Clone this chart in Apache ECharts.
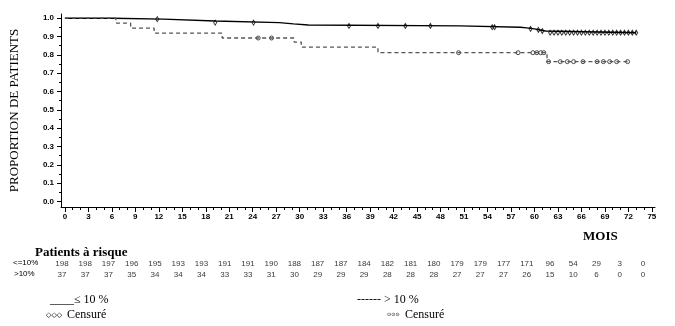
<!DOCTYPE html>
<html><head><meta charset="utf-8">
<script src="https://cdn.jsdelivr.net/npm/echarts@6/dist/echarts.min.js"></script>
<style>html,body{margin:0;padding:0;background:#fff}#c{width:675px;height:326px}</style>
</head><body><div id="c"></div>
<script>
// Kaplan-Meier curves: [month, proportion]
const curveLow = [[0,1.0],[6.1,0.995],[12.6,0.985],[19.2,0.976],[27.4,0.969],[29.2,0.963],[31.1,0.958],[50.5,0.951],[58.2,0.947],[59.0,0.942],[60.0,0.936],[60.7,0.930],[61.4,0.921],[73.0,0.921]];
const curveHigh = [[0,1.0],[6.5,0.973],[8.4,0.946],[11.4,0.919],[20.1,0.892],[29.3,0.870],[30.2,0.842],[40.0,0.812],[61.6,0.763],[72.2,0.763]];
// censored times
const censLow = [11.8,19.2,24.1,36.3,40.0,43.5,46.7,54.6,54.9,59.5,60.5,61.0,62,62.5,63,63.5,64,64.5,65,65.5,66,66.5,67,67.5,68,68.5,69,69.5,70,70.5,71,71.5,72,72.5,73];
const censHigh = [24.7,26.4,50.3,57.9,59.8,60.3,60.8,61.2,61.8,63.3,64.2,65.0,66.2,68.0,68.8,69.6,70.5,71.9];
// axis ticks
const xTicks = [0,3,6,9,12,15,18,21,24,27,30,33,36,39,42,45,48,51,54,57,60,63,66,69,72,75];
const yTicks = [0,0.1,0.2,0.3,0.4,0.5,0.6,0.7,0.8,0.9,1.0];
// patients at risk
const riskLow = [198,198,197,196,195,193,193,191,191,190,188,187,187,184,182,181,180,179,179,177,171,96,54,29,3,0];
const riskHigh = [37,37,37,35,34,34,34,33,33,31,30,29,29,29,28,28,28,27,27,27,26,15,10,6,0,0];
const riskRows = ['<=10%','>10%'];

function survAt(curve, t){let v=curve[0][1];for(const p of curve){if(p[0]<=t)v=p[1];}return v;}
const xMinor=[];for(let i=0;i<=75;i++){if(i%3!==0)xMinor.push(i);}
const yMinor=yTicks.slice(0,10).map(v=>+(v+0.05).toFixed(2));

const tickFont={fontFamily:'Liberation Sans Narrow, Arial',fontWeight:'bold',fontSize:8,color:'#000'};
const serif='Liberation Serif, Times New Roman, serif';

const riskData=[];
riskLow.forEach((v,i)=>riskData.push({value:[xTicks[i],riskRows[0]],label:{formatter:String(v)}}));
riskHigh.forEach((v,i)=>riskData.push({value:[xTicks[i],riskRows[1]],label:{formatter:String(v)}}));

const chart=echarts.init(document.getElementById('c'),null,{renderer:'canvas'});
chart.setOption({
  animation:false,
  backgroundColor:'#fff',
  grid:[{left:58,width:597,top:14,height:193},{left:62,width:581,top:258,height:22}],
  xAxis:[
    {gridIndex:0,type:'value',min:-0.5,max:75.4,
     axisLine:{show:true,onZero:false,lineStyle:{color:'#000',width:1}},
     axisTick:{show:true,customValues:xTicks,length:5,lineStyle:{color:'#000'}},
     axisLabel:Object.assign({customValues:xTicks,margin:6},tickFont),
     splitLine:{show:false}},
    {gridIndex:0,type:'value',min:-0.5,max:75.4,position:'bottom',offset:0,
     axisLine:{show:false,onZero:false},
     axisTick:{show:true,customValues:xMinor,length:3,lineStyle:{color:'#000'}},
     axisLabel:{show:false},splitLine:{show:false}},
    {gridIndex:1,type:'value',min:0,max:75,show:false}
  ],
  yAxis:[
    {gridIndex:0,type:'value',min:-0.03,max:1.023,
     name:'PROPORTION DE PATIENTS',nameLocation:'middle',nameGap:40,nameRotate:90,
     nameTextStyle:{fontFamily:serif,fontSize:13,color:'#000'},
     axisLine:{show:true,onZero:false,lineStyle:{color:'#000',width:1}},
     axisTick:{show:true,customValues:yTicks,length:4,lineStyle:{color:'#000'}},
     axisLabel:Object.assign({customValues:yTicks,margin:7,formatter:v=>v.toFixed(1)},tickFont),
     splitLine:{show:false}},
    {gridIndex:0,type:'value',min:-0.03,max:1.023,position:'left',offset:0,
     axisLine:{show:false,onZero:false},
     axisTick:{show:true,customValues:yMinor,length:2,lineStyle:{color:'#000'}},
     axisLabel:{show:false},splitLine:{show:false}},
    {gridIndex:1,type:'category',data:riskRows,inverse:true,show:false}
  ],
  series:[
    {type:'line',xAxisIndex:0,yAxisIndex:0,step:'end',data:curveLow,showSymbol:false,
     lineStyle:{color:'#000',width:1.4}},
    {type:'line',xAxisIndex:0,yAxisIndex:0,step:'end',data:curveHigh,showSymbol:false,
     lineStyle:{color:'#555',width:1.3,type:[4,3]}},
    {type:'scatter',xAxisIndex:0,yAxisIndex:0,symbol:'diamond',symbolSize:[3,5],
     data:censLow.map(t=>[t,survAt(curveLow,t)]),
     itemStyle:{color:'#fff',borderColor:'#000',borderWidth:1}},
    {type:'scatter',xAxisIndex:0,yAxisIndex:0,symbol:'circle',symbolSize:4,
     data:censHigh.map(t=>[t,survAt(curveHigh,t)]),
     itemStyle:{color:'#fff',borderColor:'#222',borderWidth:1}},
    {type:'scatter',xAxisIndex:2,yAxisIndex:2,symbolSize:0,data:riskData,
     label:{show:true,position:'inside',fontFamily:'Liberation Sans Narrow, Arial',fontSize:8,color:'#000'}}
  ],
  graphic:[
    {type:'text',left:583,top:230,style:{text:'MOIS',font:'bold 13px '+serif,fill:'#000'}},
    {type:'text',left:35,top:246,style:{text:'Patients à risque',font:'bold 13px '+serif,fill:'#000'}},
    {type:'text',left:13,top:259,style:{text:riskRows[0],font:'8px Liberation Sans Narrow, Arial',fill:'#000'}},
    {type:'text',left:14,top:270,style:{text:riskRows[1],font:'8px Liberation Sans Narrow, Arial',fill:'#000'}},
    {type:'text',left:50,top:294,style:{text:'____≤ 10 %',font:'12px '+serif,fill:'#000'}},
    {type:'text',left:46,top:312,style:{text:'◇◇◇',font:'7px DejaVu Sans',fill:'#000'}},
    {type:'text',left:67,top:309,style:{text:'Censuré',font:'12px '+serif,fill:'#000'}},
    {type:'text',left:357,top:294,style:{text:'------ > 10 %',font:'12px '+serif,fill:'#000'}},
    {type:'text',left:387,top:312,style:{text:'⊙⊙⊙',font:'5px DejaVu Sans',fill:'#000'}},
    {type:'text',left:405,top:309,style:{text:'Censuré',font:'12px '+serif,fill:'#000'}}
  ]
});
</script></body></html>
